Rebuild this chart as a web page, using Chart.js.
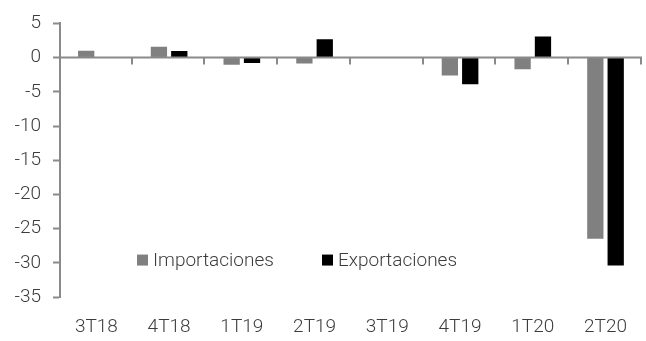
<!DOCTYPE html>
<html><head><meta charset="utf-8">
<script src="https://cdn.jsdelivr.net/npm/chart.js@4/dist/chart.umd.min.js"></script>
<style>html,body{margin:0;padding:0;background:#fff}#wrap{width:646px;height:341px;position:relative}</style>
</head><body><div id="wrap"><canvas id="c"></canvas></div>
<script>
const categories = ['3T18','4T18','1T19','2T19','3T19','4T19','1T20','2T20'];
const importaciones = [1.0, 1.6, -1.05, -0.85, 0.1, -2.6, -1.7, -26.5];
const exportaciones = [0.0, 0.95, -0.8, 2.7, 0.0, -3.9, 3.1, -30.4];
const seriesNames = ['Importaciones', 'Exportaciones'];
const seriesColors = ['#808080', '#000000'];
const yMin = -35, yMax = 5, yStep = 5;

const axisColor = '#8a8a8a';
const textColor = '#3c3c3c';
const fontSpec = {family: 'Roboto', size: 19, weight: '300'};

const zeroTicks = {
  id: 'zeroTicks',
  afterDatasetsDraw(chart) {
    const ctx = chart.ctx, x = chart.scales.x, y = chart.scales.y;
    const y0 = y.getPixelForValue(0);
    const n = categories.length, w = (x.right - x.left) / n;
    ctx.save();
    ctx.strokeStyle = axisColor; ctx.lineWidth = 2;
    ctx.beginPath(); ctx.moveTo(x.left, y0); ctx.lineTo(x.right, y0); ctx.stroke();
    for (let k = 1; k <= n; k++) {
      const px = Math.round(x.left + k * w) - 1;
      ctx.beginPath(); ctx.moveTo(px, y0); ctx.lineTo(px, y0 + 7); ctx.stroke();
    }
    ctx.restore();
  }
};

const insideLegend = {
  id: 'insideLegend',
  afterDraw(chart) {
    const ctx = chart.ctx, a = chart.chartArea, y = chart.scales.y;
    const cy = y.getPixelForValue(-29.6);
    const starts = [a.left + 77, a.left + 262];
    ctx.save();
    ctx.font = `${fontSpec.weight} ${fontSpec.size}px ${fontSpec.family}`;
    ctx.textBaseline = 'middle';
    chart.data.datasets.forEach((ds, i) => {
      const x0 = starts[i];
      ctx.fillStyle = ds.backgroundColor;
      ctx.fillRect(x0, cy - 5.5, 11, 11);
      ctx.fillStyle = textColor;
      ctx.fillText(ds.label, x0 + 16, cy + 1);
    });
    ctx.restore();
  }
};

new Chart(document.getElementById('c'), {
  type: 'bar',
  data: {
    labels: categories,
    datasets: [
      {label: seriesNames[0], data: importaciones, backgroundColor: seriesColors[0]},
      {label: seriesNames[1], data: exportaciones, backgroundColor: seriesColors[1]}
    ]
  },
  options: {
    responsive: true,
    maintainAspectRatio: false,
    animation: false,
    layout: {padding: {top: 20, right: 0, left: 0, bottom: 0}},
    datasets: {bar: {categoryPercentage: 0.56, barPercentage: 0.8}},
    plugins: {legend: {display: false}, tooltip: {enabled: false}},
    scales: {
      x: {
        grid: {display: false, drawTicks: false},
        border: {display: false},
        ticks: {color: textColor, font: fontSpec, padding: 19, maxRotation: 0},
        afterFit(s) { s.height = 44; }
      },
      y: {
        min: yMin, max: yMax,
        border: {display: true, color: axisColor, width: 2},
        grid: {
          drawOnChartArea: false,
          drawTicks: true, tickLength: 7, tickWidth: 2,
          tickColor: axisColor, color: axisColor
        },
        ticks: {stepSize: yStep, color: textColor, font: fontSpec, padding: 12},
        afterFit(s) { s.width = 60; }
      }
    }
  },
  plugins: [zeroTicks, insideLegend]
});
</script>
</body></html>
